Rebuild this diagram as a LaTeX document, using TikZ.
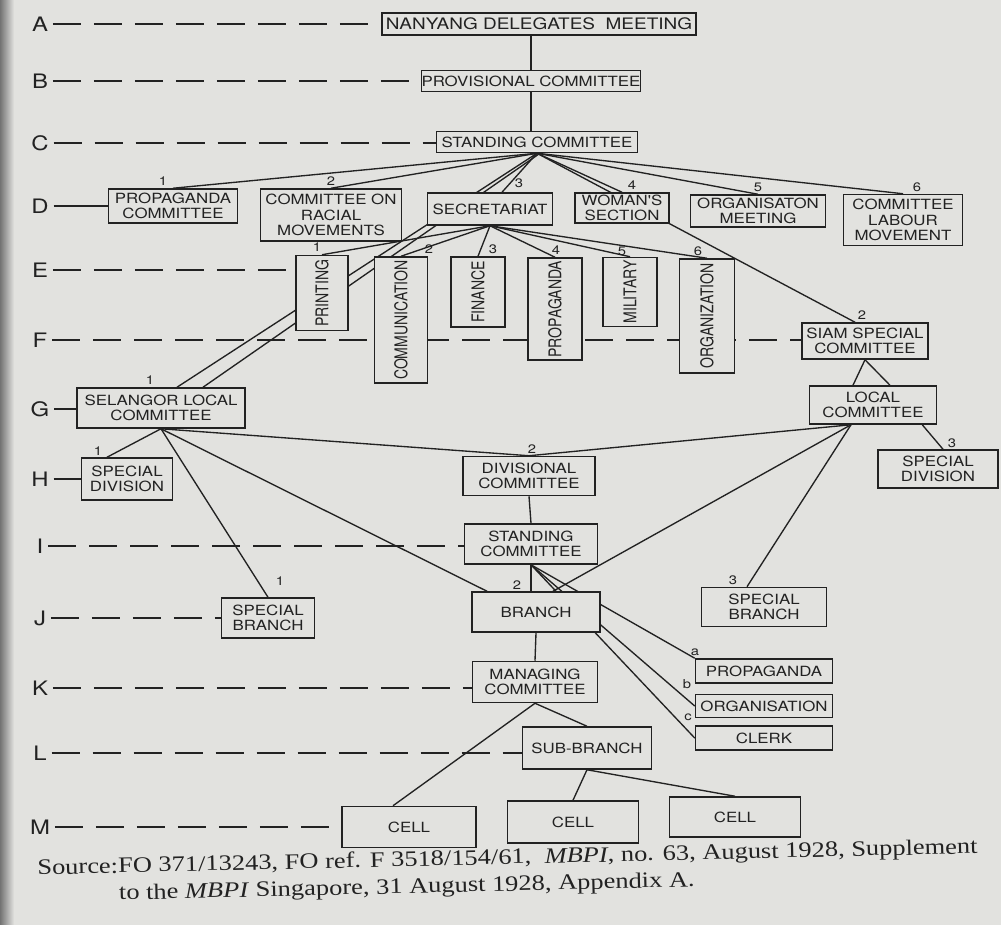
\documentclass[tikz,border=0pt]{standalone}
\usepackage{fontspec}
\newfontfamily\chartfont[FakeStretch=1.2]{TeX Gyre Heros}
\newfontfamily\vertfont[FakeStretch=0.8]{TeX Gyre Heros}
\newfontfamily\capfont[FakeStretch=1.2]{Liberation Serif}
\usetikzlibrary{positioning,calc}
\definecolor{paper}{RGB}{226,226,223}
\definecolor{ink}{RGB}{34,34,34}
\pgfdeclarelayer{bg}
\pgfsetlayers{bg,main}

\begin{document}
\begin{tikzpicture}[%
        x=0.03cm, y=-0.03cm,
        every node/.style={inner sep=0pt, text=ink},
        box/.style={rectangle, draw=ink, fill=paper, line width=1.3pt, align=center,
          font=\chartfont\fontsize{12}{13}\selectfont},
        vbox/.style={box, rotate=90, font=\vertfont\fontsize{15}{16}\selectfont},
        sz/.style 2 args={minimum width=#1*0.03cm, minimum height=#2*0.03cm},
        lvl/.style={inner xsep=4pt, font=\chartfont\fontsize{17}{17}\selectfont},
        num/.style={font=\chartfont\fontsize{10.5}{11}\selectfont},
        link/.style={draw=ink, line width=1.15pt},
        guide/.style={draw=ink, line width=1.15pt, dash pattern=on 24pt off 11pt},
        srcnote/.style={anchor=north west, rotate=1.3, align=left, font=\capfont\fontsize{18.8}{23}\selectfont}
      ]
      \useasboundingbox (0,0) rectangle (1001,925);

      \node [lvl] (lA) at (40,24) {A};
      \node [lvl] (lB) at (40,81) {B};
      \node [lvl] (lC) at (40,143) {C};
      \node [lvl] (lD) at (40,206) {D};
      \node [lvl] (lE) at (40,270) {E};
      \node [lvl] (lF) at (40,340) {F};
      \node [lvl] (lG) at (40,409) {G};
      \node [lvl] (lH) at (40,479) {H};
      \node [lvl] (lI) at (40,546) {I};
      \node [lvl] (lJ) at (40,618) {J};
      \node [lvl] (lK) at (40,688) {K};
      \node [lvl] (lL) at (40,753) {L};
      \node [lvl] (lM) at (40,827) {M};

      \node [box, sz={314}{22}, font=\chartfont\fontsize{13.5}{15}\selectfont] (ndm) at (539,24) {NANYANG DELEGATES\ \ MEETING};
      \node [box, sz={219}{21}] (prov) at (531,81) {PROVISIONAL COMMITTEE};
      \node [box, sz={201}{21}] (stand) at (537,142) {STANDING COMMITTEE};

      \node [box, sz={129}{34}] (pcom) at (173,206) {PROPAGANDA\\COMMITTEE};
      \node [box, sz={141}{52}] (racial) at (331,215) {COMMITTEE ON\\RACIAL\\MOVEMENTS};
      \node [box, sz={125}{32}] (secr) at (490,209) {SECRETARIAT};
      \node [box, sz={94}{30}] (woman) at (622,208) {WOMAN'S\\SECTION};
      \node [box, sz={135}{32}] (orgm) at (758,211) {ORGANISATON\\MEETING};
      \node [box, sz={119}{51}] (labour) at (903,220) {COMMITTEE\\LABOUR\\MOVEMENT};

      \node [vbox, sz={75}{52}] (print) at (322,293) {PRINTING};
      \node [vbox, sz={126}{53}] (comm) at (401,320) {COMMUNICATION};
      \node [vbox, sz={70}{54}] (fin) at (478,292) {FINANCE};
      \node [vbox, sz={102}{54}] (prop) at (555,309) {PROPAGANDA};
      \node [vbox, sz={69}{54}] (mil) at (630,292) {MILITARY};
      \node [vbox, sz={114}{55}] (org) at (707,316) {ORGANIZATION};

      \node [box, sz={126}{36}] (siam) at (865,341) {SIAM SPECIAL\\COMMITTEE};
      \node [box, sz={127}{38}] (local) at (873,405) {LOCAL\\COMMITTEE};
      \node [box, sz={120}{38}] (spdivR) at (938,469) {SPECIAL\\DIVISION};

      \node [box, sz={168}{40}] (selangor) at (161,408) {SELANGOR LOCAL\\COMMITTEE};
      \node [box, sz={91}{42}] (spdivL) at (127,479) {SPECIAL\\DIVISION};
      \node [box, sz={132}{39}] (div) at (529,476) {DIVISIONAL\\COMMITTEE};
      \node [box, sz={133}{40}] (stand2) at (531,544) {STANDING\\COMMITTEE};
      \node [box, sz={93}{40}] (spbrL) at (268,618) {SPECIAL\\BRANCH};
      \node [box, sz={128}{40}] (branch) at (536,612) {BRANCH};
      \node [box, sz={125}{39}] (spbrR) at (764,607) {SPECIAL\\BRANCH};
      \node [box, sz={125}{41}] (manage) at (535,682) {MANAGING\\COMMITTEE};
      \node [box, sz={137}{24}] (pa) at (764,671) {PROPAGANDA};
      \node [box, sz={137}{23}, below=0.3cm of pa] (pb) {ORGANISATION};
      \node [box, sz={137}{24}, below=0.21cm of pb] (pc) {CLERK};
      \node [box, sz={129}{42}] (subbr) at (587,748) {SUB-BRANCH};
      \node [box, sz={134}{41}] (cell1) at (409,827) {CELL};
      \node [box, sz={131}{42}] (cell2) at (573,822) {CELL};
      \node [box, sz={131}{40}] (cell3) at (735,817) {CELL};

      \node [num] (d1) at (163,181) {1};
      \node [num] (d2) at (331,181) {2};
      \node [num] (d3) at (519,183) {3};
      \node [num] (d4) at (632,185) {4};
      \node [num] (d5) at (758,187) {5};
      \node [num] (d6) at (917,187) {6};
      \node [num] (e1) at (317,247) {1};
      \node [num] (e2) at (429,249) {2};
      \node [num] (e3) at (493,249) {3};
      \node [num] (e4) at (556,250) {4};
      \node [num] (e5) at (622,251) {5};
      \node [num] (e6) at (698,251) {6};
      \node [num] (f2) at (862,315) {2};
      \node [num] (g1) at (150,380) {1};
      \node [num] (h1) at (98,451) {1};
      \node [num] (h2) at (532,449) {2};
      \node [num] (h3) at (952,443) {3};
      \node [num] (j1) at (280,581) {1};
      \node [num] (j2) at (517,585) {2};
      \node [num] (j3) at (733,580) {3};
      \node [num] (ka) at (695,652) {a};
      \node [num] (kb) at (687,684) {b};
      \node [num] (kc) at (688,717) {c};

      \node [srcnote] (src) at (37,859) {Source:FO 371/13243, FO ref. F 3518/154/61,\ \ \textit{MBPI}, no. 63, August 1928, Supplement\\
        \hspace*{2.43cm}to the \textit{MBPI} Singapore, 31 August 1928, Appendix A.};

      \begin{pgfonlayer}{bg}
        \fill [paper] (0,0) rectangle (1001,925);
        \shade [left color=black!55, right color=paper] (0,0) rectangle (14,925);
        \coordinate (locbot) at ($(local.south)+(-22,0)$);
        \path [guide] (lA.east) -- (lA.east -| ndm.west)
        (lB.east) -- (lB.east -| prov.west)
        (lC.east) -- (lC.east -| stand.west)
        (lE.east) -- (lE.east -| print.north)
        (lF.east) -- (lF.east -| siam.west)
        (lI.east) -- (lI.east -| stand2.west)
        (lJ.east) -- (lJ.east -| spbrL.west)
        (lK.east) -- (lK.east -| manage.west)
        (lL.east) -- (lL.east -| subbr.west)
        (lM.east) -- (lM.east -| cell1.west);
        \path [link] (lD.east) edge (lD.east -| pcom.west)
        (lG.east) edge (lG.east -| selangor.west)
        (lH.east) edge (lH.east -| spdivL.west)
        (prov.north) edge (prov.north |- ndm.south)
        (prov.south) edge (prov.south |- stand.north)
        (stand.south) edge (pcom.north)
        (stand.south) edge (racial.north)
        (stand.south) edge ($(secr.north)+(12,0)$)
        (stand.south) edge (woman.north)
        (stand.south) edge (orgm.north)
        (stand.south) edge (labour.north)
        (stand.south) edge ($(selangor.north)+(16,0)$)
        ($(stand.south)+(3,0)$) edge ($(selangor.north)+(42,0)$)
        (stand.south) edge ($(siam.north)+(-10,0)$)
        (secr.south) edge (print.east)
        (secr.south) edge (comm.east)
        (secr.south) edge (fin.east)
        (secr.south) edge (prop.east)
        (secr.south) edge (mil.east)
        (secr.south) edge (org.east)
        (siam.south) edge ($(local.north)+(-20,0)$)
        (siam.south) edge ($(local.north)+(17,0)$)
        (locbot) edge (div.north)
        (locbot) edge ($(branch.north)+(17,0)$)
        (locbot) edge ($(spbrR.north)+(-17,0)$)
        ($(local.south east)+(-15,0)$) edge ($(spdivR.north)+(5,0)$)
        (selangor.south) edge ($(spdivL.north)+(-20,0)$)
        (selangor.south) edge (spbrL.north)
        (selangor.south) edge ($(branch.north)+(-49,0)$)
        (selangor.south) edge (div.north)
        (div.south) edge (stand2.north)
        (stand2.south) edge (stand2.south |- branch.north)
        (stand2.south) edge (pa.north west)
        (stand2.south) edge (pb.west)
        (stand2.south) edge (pc.west)
        (branch.south) edge (manage.north)
        (manage.south) edge (subbr.north)
        (manage.south) edge ($(cell1.north)+(-16,0)$)
        (subbr.south) edge (cell2.north)
        (subbr.south) edge (cell3.north);
      \end{pgfonlayer}
    \end{tikzpicture}
\end{document}
